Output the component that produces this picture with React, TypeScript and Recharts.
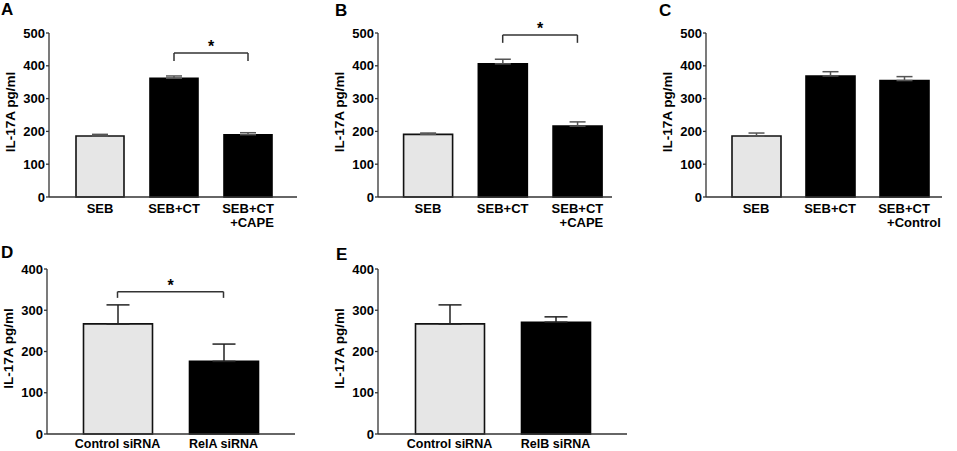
import React from 'react';
import { BarChart, Bar, XAxis, YAxis, ErrorBar, Cell, ReferenceLine } from 'recharts';

// ---------- data ----------
const catsA = ['SEB', 'SEB+CT', 'SEB+CT\n+CAPE'];
const valsA = [186, 362, 190];
const errsA = [5, 7, 6];

const catsB = ['SEB', 'SEB+CT', 'SEB+CT\n+CAPE'];
const valsB = [191, 406, 216];
const errsB = [4, 14, 13];

const catsC = ['SEB', 'SEB+CT', 'SEB+CT\n+Control'];
const valsC = [186, 369, 355];
const errsC = [9, 13, 12];

const catsD = ['Control siRNA', 'RelA siRNA'];
const valsD = [267, 176];
const errsD = [46, 42];

const catsE = ['Control siRNA', 'RelB siRNA'];
const valsE = [267, 271];
const errsE = [46, 13];

const ticks500 = [0, 100, 200, 300, 400, 500];
const ticks400 = [0, 100, 200, 300, 400];

const yLabelText = 'IL-17A pg/ml';
const starText = '*';

// bar colour kind per category: 0 = light, 1 = black
const kindsABC = [0, 1, 1];
const kindsDE = [0, 1];

const FONT = '"Liberation Sans", Arial, Helvetica, sans-serif';

type Row = { name: string; value: number; err: [number, number] };
const build = (cats: string[], vals: number[], errs: number[]): Row[] =>
  cats.map((c, i) => ({ name: c, value: vals[i], err: [0, errs[i]] }));

const makeTick = (dy: number, line2dx: number, fontSize: number, lineGap: number) => (props: any) => {
  const { x, y, payload } = props;
  const lines = String(payload.value).split('\n');
  return (
    <g>
      {lines.map((l, i) => (
        <text
          key={i}
          x={x + (i > 0 ? line2dx : 0)}
          y={y + dy + i * lineGap}
          textAnchor="middle"
          fontSize={fontSize}
          fontWeight="bold"
          fontFamily={FONT}
          fill="#000"
        >
          {l}
        </text>
      ))}
    </g>
  );
};

const makeYLabel = (dxFromAxis: number, dyCenter: number) => (props: any) => {
  const vb = props.viewBox || {};
  const cx = vb.x + vb.width - dxFromAxis;
  const cy = vb.y + vb.height / 2 + dyCenter;
  return (
    <text
      x={cx}
      y={cy}
      transform={`rotate(-90 ${cx} ${cy})`}
      textAnchor="middle"
      fontSize={13.5}
      fontWeight="bold"
      fontFamily={FONT}
      fill="#000"
    >
      {yLabelText}
    </text>
  );
};

type Sig = { from: number; to: number; level: number; drop: number };

type PanelProps = {
  left: number;
  top: number;
  width: number;
  height: number;
  cats: string[];
  vals: number[];
  errs: number[];
  kinds: number[];
  ticks: number[];
  yMax: number;
  yAxisWidth: number;
  marginTop: number;
  xAxisHeight: number;
  padL: number;
  padR: number;
  barSize: number;
  capHalf: number;
  errColor: string;
  tickDy: number;
  line2dx: number;
  xFontSize: number;
  sig?: Sig;
};

const Panel = (p: PanelProps) => {
  const data = build(p.cats, p.vals, p.errs);
  const sig = p.sig;
  const brStroke = '#333';
  return (
    <div style={{ position: 'absolute', left: p.left, top: p.top }}>
      <BarChart
        width={p.width}
        height={p.height}
        data={data}
        margin={{ top: p.marginTop, right: 5, left: 0, bottom: 0 }}
        barCategoryGap={0}
      >
        <XAxis
          dataKey="name"
          type="category"
          height={p.xAxisHeight}
          padding={{ left: p.padL, right: p.padR }}
          tickLine={false}
          tickSize={0}
          tickMargin={0}
          axisLine={{ stroke: '#333', strokeWidth: 1.3 }}
          interval={0}
          tick={makeTick(p.tickDy, p.line2dx, p.xFontSize, 14.5)}
        />
        <YAxis
          type="number"
          domain={[0, p.yMax]}
          ticks={p.ticks}
          interval={0}
          width={p.yAxisWidth}
          tickSize={3}
          tickMargin={1}
          axisLine={{ stroke: '#333', strokeWidth: 1.3 }}
          tickLine={{ stroke: '#333', strokeWidth: 1.3 }}
          tick={{ fontSize: 13, fontWeight: 'bold', fill: '#000', fontFamily: FONT }}
          label={makeYLabel(34, -3)}
        />
        <Bar dataKey="value" barSize={p.barSize} isAnimationActive={false} strokeWidth={1.6}>
          {data.map((_, i) => (
            <Cell
              key={i}
              fill={p.kinds[i] === 0 ? '#e6e6e6' : '#000'}
              stroke={p.kinds[i] === 0 ? '#111' : '#000'}
            />
          ))}
          <ErrorBar
            dataKey="err"
            direction="y"
            width={p.capHalf}
            stroke={p.errColor}
            strokeWidth={1.5}
            isAnimationActive={false}
          />
        </Bar>
        {sig && (
          <ReferenceLine
            segment={[
              { x: p.cats[sig.from], y: sig.level },
              { x: p.cats[sig.to], y: sig.level },
            ]}
            stroke={brStroke}
            strokeWidth={1.5}
            ifOverflow="visible"
            label={{
              value: starText,
              position: 'top',
              offset: 1,
              fontSize: 16,
              fontWeight: 'bold',
              fill: '#000',
              fontFamily: FONT,
            }}
          />
        )}
        {sig && (
          <ReferenceLine
            segment={[
              { x: p.cats[sig.from], y: sig.level },
              { x: p.cats[sig.from], y: sig.level - sig.drop },
            ]}
            stroke={brStroke}
            strokeWidth={1.5}
            ifOverflow="visible"
          />
        )}
        {sig && (
          <ReferenceLine
            segment={[
              { x: p.cats[sig.to], y: sig.level },
              { x: p.cats[sig.to], y: sig.level - sig.drop },
            ]}
            stroke={brStroke}
            strokeWidth={1.5}
            ifOverflow="visible"
          />
        )}
      </BarChart>
    </div>
  );
};

const Letter = ({ ch, left, top }: { ch: string; left: number; top: number }) => (
  <div
    style={{
      position: 'absolute',
      left,
      top,
      fontFamily: FONT,
      fontWeight: 'bold',
      fontSize: 17,
      lineHeight: '17px',
      color: '#000',
    }}
  >
    {ch}
  </div>
);

export default function App() {
  return (
    <div
      style={{
        position: 'absolute',
        left: 0,
        top: 0,
        width: 957,
        height: 451,
        background: '#fff',
        overflow: 'hidden',
      }}
    >
      <Panel
        left={0}
        top={0}
        width={302}
        height={235}
        cats={catsA}
        vals={valsA}
        errs={errsA}
        kinds={kindsABC}
        ticks={ticks500}
        yMax={500}
        yAxisWidth={49}
        marginTop={33}
        xAxisHeight={38}
        padL={14}
        padR={12}
        barSize={48}
        capHalf={8}
        errColor="#555"
        tickDy={15.5}
        line2dx={4}
        xFontSize={13}
        sig={{ from: 1, to: 2, level: 439, drop: 24 }}
      />
      <Panel
        left={329}
        top={0}
        width={288}
        height={235}
        cats={catsB}
        vals={valsB}
        errs={errsB}
        kinds={kindsABC}
        ticks={ticks500}
        yMax={500}
        yAxisWidth={49}
        marginTop={33}
        xAxisHeight={38}
        padL={12.6}
        padR={-2.8}
        barSize={49}
        capHalf={8}
        errColor="#555"
        tickDy={15.5}
        line2dx={4}
        xFontSize={13}
        sig={{ from: 1, to: 2, level: 494, drop: 24 }}
      />
      <Panel
        left={657}
        top={0}
        width={290}
        height={235}
        cats={catsC}
        vals={valsC}
        errs={errsC}
        kinds={kindsABC}
        ticks={ticks500}
        yMax={500}
        yAxisWidth={49}
        marginTop={33}
        xAxisHeight={38}
        padL={13}
        padR={1}
        barSize={49}
        capHalf={8}
        errColor="#555"
        tickDy={15.5}
        line2dx={10}
        xFontSize={13}
      />
      <Panel
        left={0}
        top={236}
        width={300}
        height={215}
        cats={catsD}
        vals={valsD}
        errs={errsD}
        kinds={kindsDE}
        ticks={ticks400}
        yMax={400}
        yAxisWidth={47}
        marginTop={33}
        xAxisHeight={17}
        padL={17.5}
        padR={18.5}
        barSize={69}
        capHalf={11.5}
        errColor="#222"
        tickDy={13.5}
        line2dx={0}
        xFontSize={12.5}
        sig={{ from: 0, to: 1, level: 345, drop: 15 }}
      />
      <Panel
        left={331}
        top={236}
        width={301}
        height={215}
        cats={catsE}
        vals={valsE}
        errs={errsE}
        kinds={kindsDE}
        ticks={ticks400}
        yMax={400}
        yAxisWidth={47}
        marginTop={33}
        xAxisHeight={17}
        padL={18.5}
        padR={18.5}
        barSize={69}
        capHalf={11.5}
        errColor="#222"
        tickDy={13.5}
        line2dx={0}
        xFontSize={12.5}
      />
      <Letter ch="A" left={1} top={1} />
      <Letter ch="B" left={335} top={2} />
      <Letter ch="C" left={659} top={2} />
      <Letter ch="D" left={1} top={244} />
      <Letter ch="E" left={336} top={246} />
    </div>
  );
}
